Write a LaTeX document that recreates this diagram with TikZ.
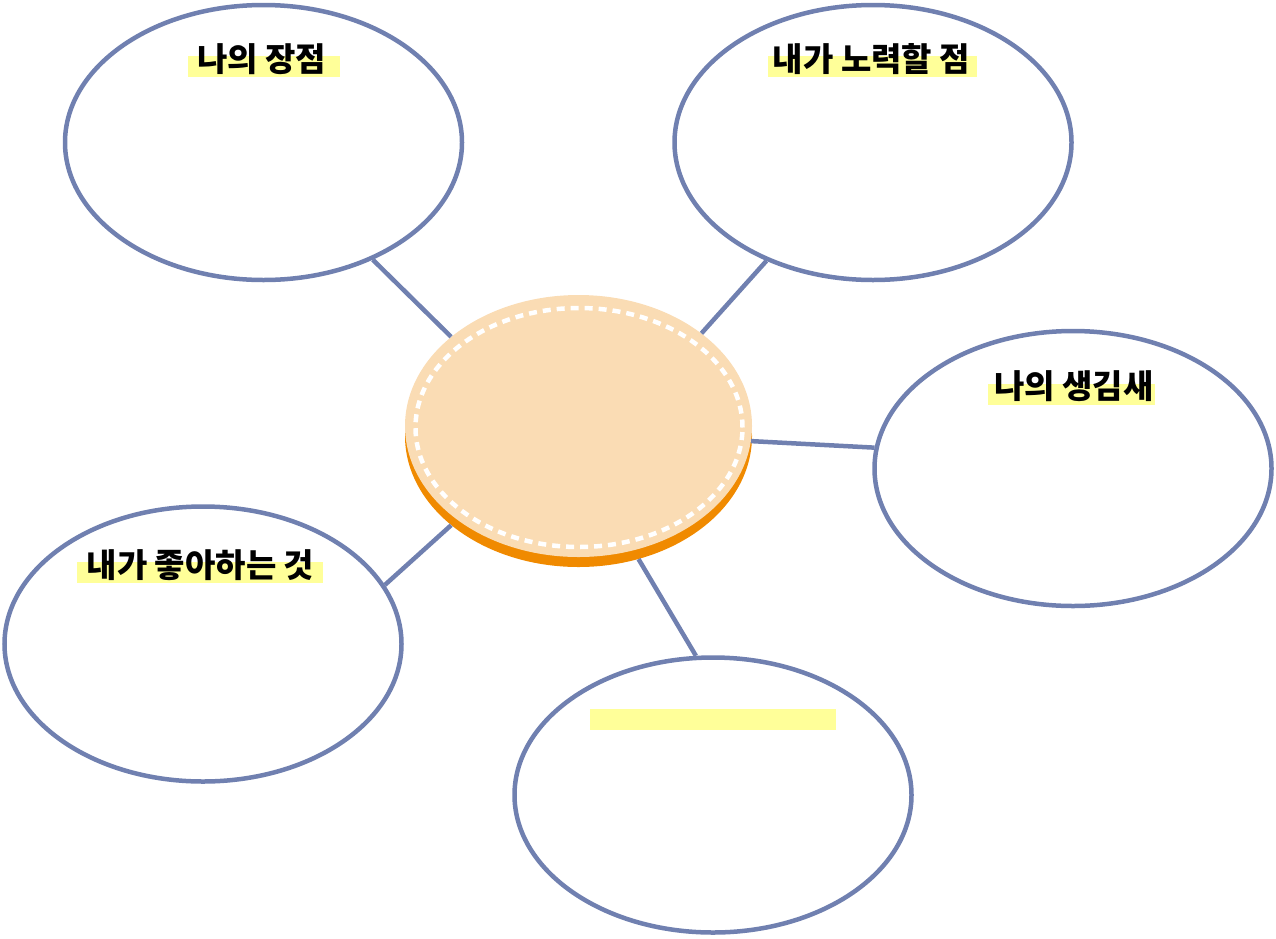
\documentclass[tikz,border=0pt]{standalone}
\usepackage{fontspec}
\newfontfamily\kr{Noto Sans CJK KR}
\usetikzlibrary{shapes.geometric}
\definecolor{bubbleline}{HTML}{7080B0}
\definecolor{disclight}{HTML}{FADCB4}
\definecolor{discdark}{HTML}{F08A00}
\definecolor{hl}{HTML}{FFFF99}
\begin{document}
\begin{tikzpicture}[x=1pt,y=-1pt,
  bubble/.style={ellipse, draw=bubbleline, line width=4.5pt, fill=white,
    minimum width=397pt, minimum height=275pt, inner sep=0pt},
  link/.style={draw=bubbleline, line width=4.5pt},
  hlbox/.style={fill=hl, draw=none, inner sep=0pt, anchor=north west, minimum height=21pt},
  lbltext/.style={font=\kr\bfseries\fontsize{33pt}{33pt}\selectfont, anchor=base, inner sep=0pt},
  discshape/.style={ellipse, draw=none, minimum width=347pt, minimum height=262pt, inner sep=0pt}
]
\useasboundingbox (0,0) rectangle (1276,938);

% bubbles
\node[bubble] (tl) at (263.5,142.5) {};
\node[bubble] (tr) at (873,142.5) {};
\node[bubble] (r) at (1073,468.5) {};
\node[bubble] (lb) at (203,644) {};
\node[bubble] (b) at (713,795) {};

% central disc
\node[discshape, fill=discdark] (discbase) at (578.5,436) {};
\node[discshape, fill=disclight] (disc) at (578.5,426) {};
\node[ellipse, draw=white, line width=4.5pt, dash pattern=on 8pt off 6pt,
  minimum width=327pt, minimum height=239pt, inner sep=0pt] (discdash) at (579,427.5) {};

% connectors
\draw[link] (tl.-47.3) -- (disc.145.3);
\draw[link] (tr.-132.6) -- (disc.37.5);
\draw[link] (r.174.1) -- (disc.-5.6);
\draw[link] (lb.18.6) -- (discbase.-145.5);
\draw[link] (b.97.3) -- (discbase.-64.6);

% highlights
\node[hlbox, minimum width=152pt] (h1) at (188,56) {};
\node[hlbox, minimum width=209pt] (h2) at (768,56) {};
\node[hlbox, minimum width=167pt] (h3) at (988,384) {};
\node[hlbox, minimum width=246pt] (h4) at (77,562) {};
\node[hlbox, minimum width=246pt] (h5) at (590,709) {};

% labels
\node[lbltext] (t1) at (261.5,71) {나의 장점};
\node[lbltext] (t2) at (871.5,71) {내가 노력할 점};
\node[lbltext] (t3) at (1074,398) {나의 생김새};
\node[lbltext] (t4) at (200.5,577) {내가 좋아하는 것};
\end{tikzpicture}
\end{document}
